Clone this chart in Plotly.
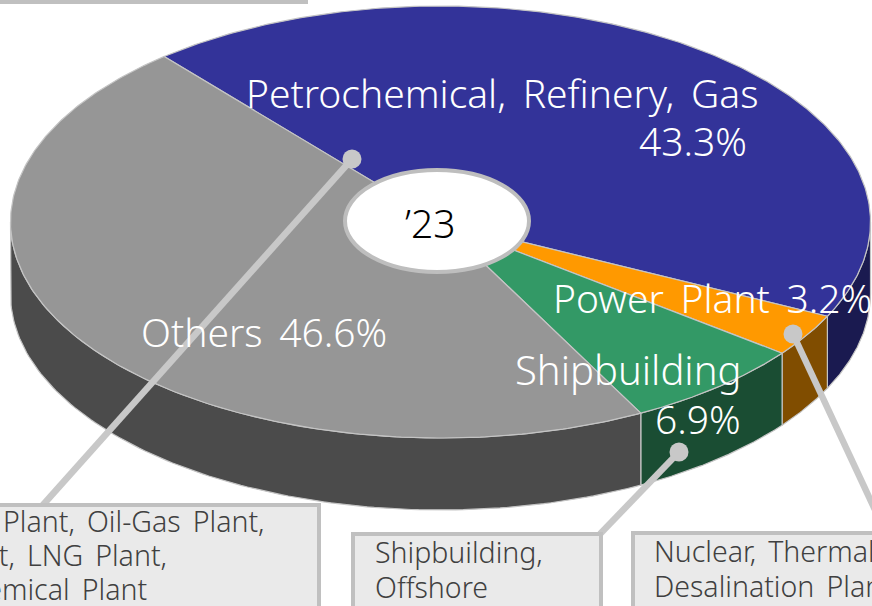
import numpy as np
import plotly.graph_objects as go

# --- data ---
categories = ["Petrochemical, Refinery, Gas", "Power Plant", "Shipbuilding", "Others"]
shares = [43.3, 3.2, 6.9, 46.6]
year_label = "’23"
box_left = ["Plant, Oil-Gas Plant,", "Plant, LNG Plant,", "Petrochemical Plant"]
box_mid = ["Shipbuilding,", "Offshore"]
box_right = ["Nuclear, Thermal Power Plant,", "Desalination Plant"]

# --- style ---
top_colors = ["#333399", "#FF9900", "#339966", "#969696"]
wall_colors = ["#1A1A50", "#804D00", "#1A4D33", "#4B4B4B"]
edge = "#C4C4C4"
W, H = 872, 606
CX, CY, RX, RY, DEPTH = 440.5, 222, 430, 216, 72
START = -40.0
FONT = "Noto Sans"


def pt(a):
    t = np.radians(a)
    return CX + RX * np.sin(t), CY - RY * np.cos(t)


def wide(s):
    return s.replace(" ", " \u2009")


fig = go.Figure()
edges = START + np.concatenate([[0], np.cumsum(shares)]) * 3.6

# side walls (only the front half of the rim, 90..270 degrees clockwise from top)
for i in range(len(shares)):
    a0, a1 = max(edges[i], 90), min(edges[i + 1], 270)
    if a1 <= a0:
        continue
    x, y = pt(np.linspace(a0, a1, 120))
    fig.add_trace(go.Scatter(
        x=np.concatenate([x, x[::-1], x[:1]]),
        y=np.concatenate([y, y[::-1] + DEPTH, y[:1]]),
        mode="lines", fill="toself", fillcolor=wall_colors[i],
        line=dict(color=edge, width=1.2), hoverinfo="skip", showlegend=False))

# top faces
for i in range(len(shares)):
    x, y = pt(np.linspace(edges[i], edges[i + 1], 240))
    fig.add_trace(go.Scatter(
        x=np.concatenate([[CX], x, [CX]]),
        y=np.concatenate([[CY], y, [CY]]),
        mode="lines", fill="toself", fillcolor=top_colors[i],
        line=dict(color=edge, width=1.2), name=categories[i],
        hoverinfo="name", showlegend=False))

LINE = "#C8C8C8"
BOX = dict(type="rect", line=dict(color="#C0C0C0", width=4), fillcolor="#EAEAEA", layer="above")
shapes = [
    dict(BOX, x0=-10, x1=306, y0=-20, y1=2, fillcolor="#C0C0C0"),
    dict(type="line", x0=352, y0=159, x1=42, y1=506, line=dict(color=LINE, width=6.5)),
    dict(type="line", x0=679, y0=452, x1=600, y1=534, line=dict(color=LINE, width=6.5)),
    dict(type="line", x0=793, y0=334, x1=876, y1=512, line=dict(color=LINE, width=6.5)),
    dict(type="circle", x0=342.5, x1=361.5, y0=149.5, y1=168.5, fillcolor=LINE, line=dict(width=0)),
    dict(type="circle", x0=669.5, x1=688.5, y0=442.5, y1=461.5, fillcolor=LINE, line=dict(width=0)),
    dict(type="circle", x0=783.5, x1=802.5, y0=324.5, y1=343.5, fillcolor=LINE, line=dict(width=0)),
    dict(BOX, x0=-10, x1=319, y0=505, y1=620),
    dict(BOX, x0=353, x1=601, y0=534, y1=620),
    dict(BOX, x0=633, x1=890, y0=533, y1=620),
    dict(type="circle", x0=345, x1=529, y0=170, y1=272, fillcolor="#FFFFFF",
         line=dict(color="#BEBEBE", width=4)),
]
for s in shapes:
    s.setdefault("layer", "above")


def label(text, x, y, size=39, color="#FFFFFF", anchor="center"):
    return dict(text=wide(text), x=x, y=y, xref="x", yref="y", xanchor=anchor, yanchor="middle",
                showarrow=False, font=dict(family=FONT, size=size, color=color, weight=350))


annotations = [
    label(categories[0], 502, 92),
    label(f"{shares[0]}%", 693, 140),
    label(f"{categories[1]} {shares[1]}%", 712, 297),
    label(categories[2], 628, 369, size=40),
    label(f"{shares[2]}%", 698, 418),
    label(f"{categories[3]} {shares[3]}%", 264, 331),
    label(year_label, 430, 222, size=39, color="#000000"),
]
TXT = "#404040"
BS = 28.5
annotations += [label(box_left[0], 267, 521, size=BS, color=TXT, anchor="right"),
                label(box_left[1], 169, 555, size=BS, color=TXT, anchor="right"),
                label(box_left[2], 149, 589, size=BS, color=TXT, anchor="right")]
annotations += [label(t, 373, 552 + 35 * k, size=BS, color=TXT, anchor="left") for k, t in enumerate(box_mid)]
annotations += [label(t, 652, 551 + 35 * k, size=BS, color=TXT, anchor="left") for k, t in enumerate(box_right)]

fig.update_layout(
    width=W, height=H, margin=dict(l=0, r=0, t=0, b=0),
    paper_bgcolor="#FFFFFF", plot_bgcolor="#FFFFFF",
    xaxis=dict(range=[0, W], visible=False, fixedrange=True),
    yaxis=dict(range=[H, 0], visible=False, fixedrange=True),
    shapes=shapes, annotations=annotations, showlegend=False)
fig.write_html("out.html", config=dict(displayModeBar=False),
               post_script="document.body.style.margin='0';document.body.style.overflow='hidden';")
